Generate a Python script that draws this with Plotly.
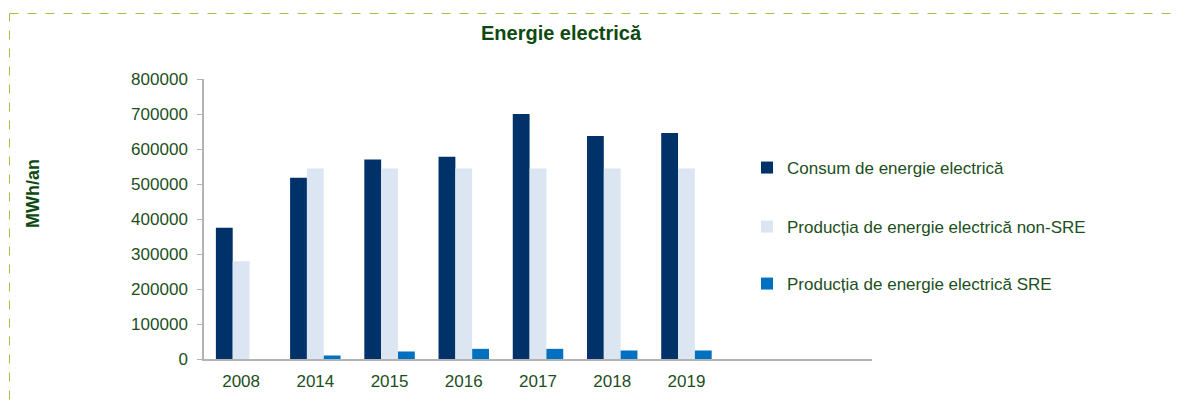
import plotly.graph_objects as go

years = ["2008", "2014", "2015", "2016", "2017", "2018", "2019"]
consum = [375000, 518000, 570000, 578000, 700000, 637000, 646000]
prod_non_sre = [279000, 544000, 544000, 544000, 544000, 544000, 544000]
prod_sre = [0, 10000, 21500, 29000, 29000, 24300, 24300]

names = ["Consum de energie electrică",
         "Producția de energie electrică non-SRE",
         "Producția de energie electrică SRE"]
colors = ["#00326A", "#DCE6F2", "#0070C0"]

# page body has an 8px margin; work in reference-pixel coordinates and shift
OFF = 8
W, H = 1187 - OFF, 405 - OFF
L = 204 - OFF
R = W - (872 - OFF)
T = 79 - OFF
B = 46
pw, ph = W - L - R, H - T - B

def px(x):
    return (x - OFF - L) / pw

def py(y):
    return (H - B - (y - OFF)) / ph

green = "#1C4F1C"
font = "Liberation Sans, Arial, sans-serif"

fig = go.Figure()
legends = ["legend", "legend2", "legend3"]
for vals, nm, col, lg in zip([consum, prod_non_sre, prod_sre], names, colors, legends):
    fig.add_trace(go.Bar(x=years, y=vals, name=nm, marker=dict(color=col, line=dict(width=0)),
                         legend=lg, showlegend=True))

leg_y = [168, 227, 284]
leg_common = dict(font=dict(family=font, size=17, color=green), bgcolor="rgba(0,0,0,0)",
                  xanchor="left", yanchor="middle", x=px(747), visible=True)
fig.update_layout(
    width=W, height=H,
    margin=dict(l=L, r=R, t=T, b=B),
    paper_bgcolor="white", plot_bgcolor="white",
    showlegend=True,
    barmode="group", bargap=0.32, bargroupgap=0,
    font=dict(family=font, size=17, color=green),
    title=dict(text="<b>Energie electrică</b>", x=px(561), xref="paper", xanchor="center",
               y=1 - (33 - OFF) / H, yref="container", yanchor="middle",
               font=dict(family=font, size=20, color="#0E4A10")),
    legend=dict(**leg_common, y=py(leg_y[0])),
    legend2=dict(**leg_common, y=py(leg_y[1])),
    legend3=dict(**leg_common, y=py(leg_y[2])),
    xaxis=dict(type="category", range=[-0.5, 8.5], showgrid=False, showline=True,
               linecolor="#B3B3B3", linewidth=2, ticks="", ticklabelstandoff=6,
               tickfont=dict(family=font, size=17, color=green), zeroline=False),
    yaxis=dict(range=[0, 800000], tickvals=list(range(0, 800001, 100000)),
               tickformat="d", showgrid=False, showline=True, linecolor="#B3B3B3",
               linewidth=1.5, ticks="outside", ticklen=5, tickcolor="#B3B3B3",
               ticklabelstandoff=6, tickfont=dict(family=font, size=17, color=green),
               zeroline=False),
    annotations=[dict(text="<b>MWh/an</b>", textangle=-90, x=px(33), y=py(194),
                      xref="paper", yref="paper", xanchor="center", yanchor="middle",
                      showarrow=False, font=dict(family=font, size=18, color="#0E4A10"))],
    shapes=[dict(type="rect", xref="paper", yref="paper",
                 x0=px(9.5), x1=px(1200), y0=py(13.5), y1=py(420),
                 line=dict(color="#9DC63A", width=1, dash="dash"), layer="below")],
)

fig.write_html("out.html")
